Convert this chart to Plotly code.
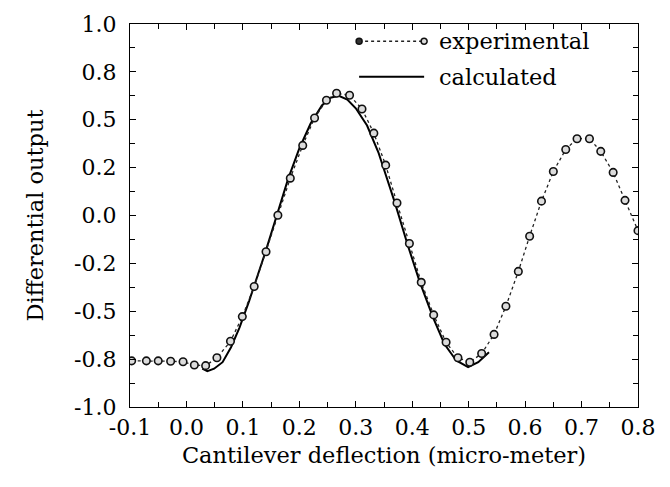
import plotly.graph_objects as go

exp_x = [-0.097, -0.071, -0.050, -0.028, -0.006, 0.014, 0.034, 0.054, 0.078, 0.099,
         0.120, 0.141, 0.162, 0.184, 0.206, 0.227, 0.248, 0.266, 0.289, 0.311,
         0.332, 0.353, 0.373, 0.395, 0.416, 0.438, 0.460, 0.481, 0.502, 0.523,
         0.545, 0.566, 0.588, 0.608, 0.629, 0.650, 0.672, 0.692, 0.714, 0.734,
         0.756, 0.777, 0.800]
exp_y = [-0.759, -0.759, -0.759, -0.761, -0.764, -0.781, -0.784, -0.743, -0.657, -0.528,
         -0.371, -0.189, 0.001, 0.195, 0.366, 0.509, 0.602, 0.638, 0.628, 0.556,
         0.430, 0.263, 0.065, -0.146, -0.349, -0.519, -0.662, -0.743, -0.766, -0.721,
         -0.621, -0.474, -0.292, -0.108, 0.075, 0.230, 0.345, 0.401, 0.401, 0.335,
         0.225, 0.079, -0.079]

calc_x = [0.028, 0.037, 0.049, 0.064, 0.079, 0.094, 0.111, 0.120, 0.140, 0.160,
          0.180, 0.200, 0.220, 0.240, 0.255, 0.270, 0.285, 0.300, 0.320, 0.340,
          0.355, 0.369, 0.392, 0.413, 0.437, 0.457, 0.478, 0.499, 0.517, 0.536]
calc_y = [-0.800, -0.813, -0.800, -0.766, -0.688, -0.585, -0.447, -0.370, -0.190, 0.000,
          0.190, 0.350, 0.480, 0.575, 0.615, 0.625, 0.605, 0.560, 0.470, 0.330,
          0.200, 0.070, -0.154, -0.344, -0.533, -0.671, -0.757, -0.792, -0.766, -0.714]

x_ticks = [-0.1, 0.0, 0.1, 0.2, 0.3, 0.4, 0.5, 0.6, 0.7, 0.8]
x_labels = ["-0.1", "0.0", "0.1", "0.2", "0.3", "0.4", "0.5", "0.6", "0.7", "0.8"]
y_ticks = [-1.0, -0.75, -0.5, -0.25, 0.0, 0.25, 0.5, 0.75, 1.0]
y_labels = ["-1.0", "-0.8", "-0.5", "-0.2", "0.0", "0.2", "0.5", "0.8", "1.0"]

legend_names = ["experimental", "calculated"]

FONT = "DejaVu Serif"

fig = go.Figure()
fig.add_trace(go.Scatter(
    x=calc_x, y=calc_y, mode="lines", name=legend_names[1],
    line=dict(color="black", width=2), showlegend=False))
fig.add_trace(go.Scatter(
    x=exp_x, y=exp_y, mode="lines+markers", name=legend_names[0],
    line=dict(color="#222", width=1.3, dash="dot"),
    marker=dict(symbol="circle", size=7.5, color="#dcdcdc",
                line=dict(color="#111", width=1.6)),
    showlegend=False))

# custom legend (paper coordinates)
lx0, lx1 = 0.451, 0.579
ly_exp, ly_calc = 0.955, 0.862
shapes = [
    dict(type="line", xref="paper", yref="paper", x0=lx0, x1=lx1, y0=ly_exp, y1=ly_exp,
         line=dict(color="#222", width=1.3, dash="dot")),
    dict(type="line", xref="paper", yref="paper", x0=lx0, x1=lx1, y0=ly_calc, y1=ly_calc,
         line=dict(color="black", width=2)),
    dict(type="circle", xref="paper", yref="paper", xsizemode="pixel", ysizemode="pixel",
         xanchor=lx0, yanchor=ly_exp, x0=-3, x1=3, y0=-3, y1=3,
         fillcolor="#333", line=dict(color="#111", width=1.5)),
    dict(type="circle", xref="paper", yref="paper", xsizemode="pixel", ysizemode="pixel",
         xanchor=lx1, yanchor=ly_exp, x0=-3, x1=3, y0=-3, y1=3,
         fillcolor="#dcdcdc", line=dict(color="#111", width=1.5)),
]
annotations = [
    dict(text=legend_names[0], xref="paper", yref="paper", x=0.604, y=ly_exp,
         xanchor="left", yanchor="middle", showarrow=False,
         font=dict(family=FONT, size=22.5, color="black")),
    dict(text=legend_names[1], xref="paper", yref="paper", x=0.604, y=ly_calc,
         xanchor="left", yanchor="middle", showarrow=False,
         font=dict(family=FONT, size=22.5, color="black")),
]

axis_common = dict(
    showline=True, linecolor="black", linewidth=1.2, mirror="ticks",
    ticks="inside", ticklen=6, tickwidth=1.2, tickcolor="black",
    showgrid=False, zeroline=False,
    tickfont=dict(family=FONT, size=22, color="black"),
)

fig.update_layout(
    width=670, height=487,
    margin=dict(l=130, r=32, t=20, b=80),
    paper_bgcolor="white", plot_bgcolor="white",
    font=dict(family=FONT, color="black"),
    shapes=shapes, annotations=annotations,
    xaxis=dict(range=[-0.1, 0.8], tickvals=x_ticks, ticktext=x_labels,
               minor=dict(dtick=0.05, tick0=0, ticks="inside", ticklen=5,
                          tickcolor="black", tickwidth=1.2),
               title=dict(text="Cantilever deflection (micro-meter)",
                          font=dict(family=FONT, size=22.5, color="black"), standoff=8),
               **axis_common),
    yaxis=dict(range=[-1.0, 1.0], tickvals=y_ticks, ticktext=y_labels,
               ticklabelstandoff=8,
               minor=dict(dtick=0.125, tick0=0, ticks="inside", ticklen=5,
                          tickcolor="black", tickwidth=1.2),
               title=dict(text="Differential output",
                          font=dict(family=FONT, size=22.5, color="black"), standoff=24),
               **axis_common),
)

fig.write_html("out.html")
